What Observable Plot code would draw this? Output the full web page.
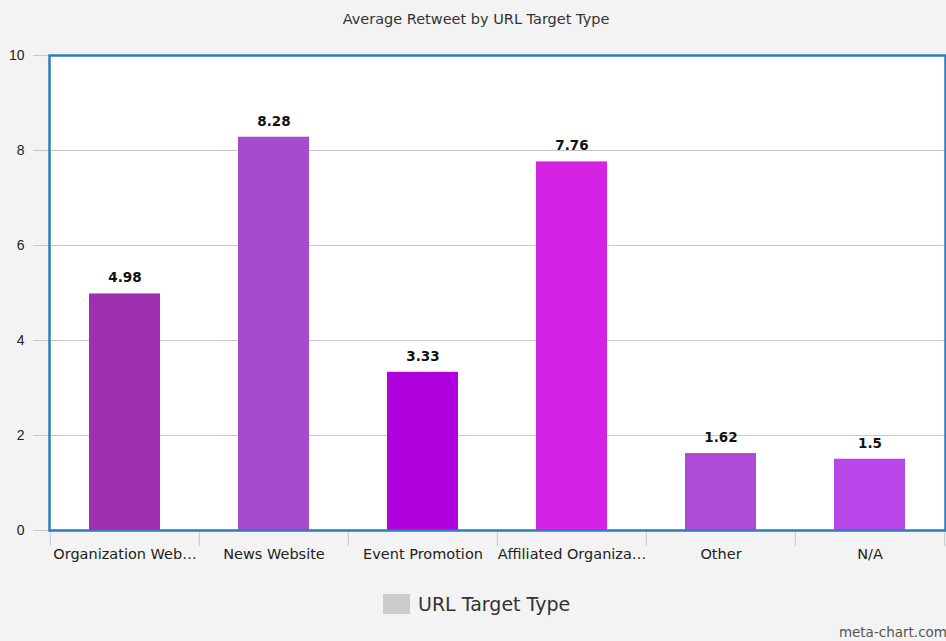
<!DOCTYPE html>
<html>
<head>
<meta charset="utf-8">
<script src="https://cdn.jsdelivr.net/npm/d3@7"></script>
<script src="https://cdn.jsdelivr.net/npm/@observablehq/plot@0.6"></script>
<style>
  html, body { margin: 0; padding: 0; background: #f3f3f3; }
  #wrap { position: relative; width: 946px; height: 641px; overflow: hidden; font-family: "DejaVu Sans", sans-serif; }
  #title { position: absolute; top: 11px; left: 0; width: 952px; text-align: center; font-size: 14.5px; color: #333; }
  #legend { position: absolute; top: 593px; left: 383px; display: flex; align-items: center; font-size: 19px; color: #333; }
  #legend .sw { width: 27px; height: 20px; background: #cccccc; margin-right: 8px; }
  #credit { position: absolute; right: -1px; top: 624px; font-size: 13.5px; color: #555; }
</style>
</head>
<body>
<div id="wrap">
  <div id="chart"></div>
  <div id="title">Average Retweet by URL Target Type</div>
  <div id="legend"><div class="sw"></div><span>URL Target Type</span></div>
  <div id="credit">meta-chart.com</div>
</div>
<script>
const categories = ["Organization Web…", "News Website", "Event Promotion", "Affiliated Organiza…", "Other", "N/A"];
const values = [4.98, 8.28, 3.33, 7.76, 1.62, 1.5];
const labels = ["4.98", "8.28", "3.33", "7.76", "1.62", "1.5"];
const yTicks = [0, 2, 4, 6, 8, 10];
const palette = ["#9f2fb1", "#a54ccd", "#b100de", "#d322e4", "#ae4bd6", "#b846e8"];

const data = categories.map((c, i) => ({category: c, value: values[i], label: labels[i]}));

const W = 946, H = 641, ML = 49, MR = 1, MT = 55, MB = 111;
const bw = (W - ML - MR) / categories.length;

const chart = Plot.plot({
  width: W,
  height: H,
  marginLeft: ML,
  marginRight: MR,
  marginTop: MT,
  marginBottom: MB,
  style: {background: "transparent", fontFamily: "'DejaVu Sans', sans-serif", fontSize: "14px", color: "#222"},
  x: {type: "band", domain: categories, padding: 0},
  y: {domain: [0, 10]},
  color: {domain: categories, range: palette},
  marks: [
    Plot.frame({fill: "white"}),
    Plot.gridY(yTicks.filter(t => t > 0 && t < 10), {stroke: "#c8c8c8", strokeOpacity: 1, strokeWidth: 1.2}),
    Plot.barY(data, {x: "category", y: "value", fill: "category", insetLeft: 39, insetRight: 39}),
    Plot.text(data, {x: "category", y: "value", text: "label", dy: -16, fontWeight: "bold", fontSize: 13.5, fill: "#111"}),
    Plot.ruleX(categories, {x: d => d, dx: -bw / 2, y1: 0, y2: 0, insetBottom: -16, stroke: "#c0c8d0"}),
    Plot.ruleX(categories.slice(-1), {x: d => d, dx: bw / 2, y1: 0, y2: 0, insetBottom: -16, stroke: "#c0c8d0"}),
    Plot.axisY({ticks: yTicks, tickSize: 16, tickPadding: 9, stroke: "#c8c8c8", fill: "#222", fontSize: 14, fontFamily: "'Liberation Sans', Arial, sans-serif", label: null}),
    Plot.axisX({tickSize: 0, tickPadding: 18, fill: "#222", fontSize: 14.5, label: null}),
    Plot.frame({stroke: "#2d7dbb", strokeWidth: 2.5})
  ]
});
document.getElementById("chart").appendChild(chart);
</script>
</body>
</html>
